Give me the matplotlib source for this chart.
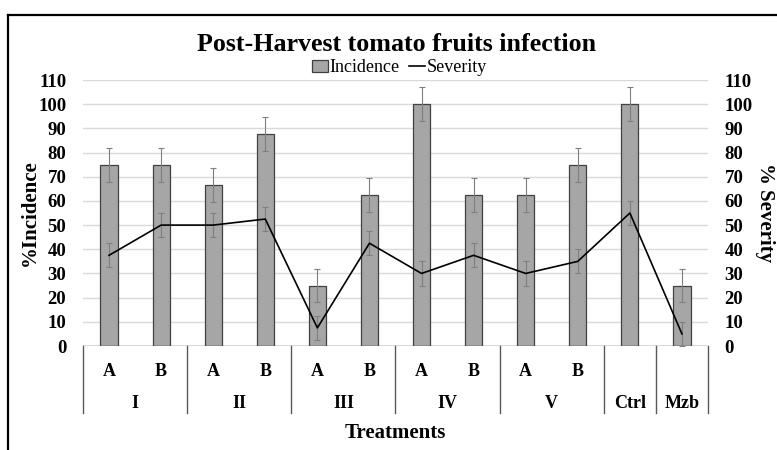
import matplotlib
matplotlib.use("Agg")
import matplotlib.pyplot as plt
from matplotlib.lines import Line2D
from matplotlib.patches import Patch
import numpy as np

plt.rcParams['font.family'] = ['Liberation Serif', 'DejaVu Serif']

# data
sub_labels = ['A', 'B', 'A', 'B', 'A', 'B', 'A', 'B', 'A', 'B', '', '']
groups = ['I', 'II', 'III', 'IV', 'V', 'Ctrl', 'Mzb']
group_sizes = [2, 2, 2, 2, 2, 1, 1]
incidence = [75, 75, 66.7, 87.5, 25, 62.5, 100, 62.5, 62.5, 75, 100, 25]
incidence_err = [7, 7, 7, 7, 7, 7, 7, 7, 7, 7, 7, 7]
severity = [37.5, 50, 50, 52.5, 7.5, 42.5, 30, 37.5, 30, 35, 55, 5]
severity_err = [5, 5, 5, 5, 5, 5, 5, 5, 5, 5, 5, 5]

fig = plt.figure(figsize=(7.77, 4.5), dpi=100)
ax = fig.add_axes([0.1068, 0.2311, 0.8044, 0.5911])
ax2 = ax.twinx()

x = np.arange(len(incidence))
ax.bar(x, incidence, width=0.33, color='#a6a6a6', edgecolor='#404040',
       linewidth=0.9, zorder=2)
ax.errorbar(x, incidence, yerr=incidence_err, fmt='none', ecolor='#7f7f7f',
            elinewidth=0.8, capsize=2, capthick=0.8, zorder=3)

ax2.plot(x, severity, color='black', linewidth=1.2, zorder=4)
ax2.errorbar(x, severity, yerr=severity_err, fmt='none', ecolor='#7f7f7f',
             elinewidth=0.8, capsize=2, capthick=0.8, zorder=3)

for a in (ax, ax2):
    a.set_ylim(0, 110)
    a.set_yticks(range(0, 111, 10))
    a.set_xlim(-0.5, len(incidence) - 0.5)
    for s in a.spines.values():
        s.set_visible(False)
    a.tick_params(axis='y', length=0, labelsize=13.5, pad=12)
    for lbl in a.get_yticklabels():
        lbl.set_fontweight('bold')

ax.yaxis.grid(True, color='#d9d9d9', linewidth=1.0, zorder=0)
ax.set_axisbelow(True)
ax.set_xticks([])
ax2.set_xticks([])
ax.axhline(0, color='#595959', linewidth=1.0, zorder=5)

# multi-level category table below the axis
xt = ax.get_xaxis_transform()
bounds = [-0.5]
for n in group_sizes:
    bounds.append(bounds[-1] + n)
for b in bounds:
    ax.plot([b, b], [0, -0.252], transform=xt, color='#595959',
            linewidth=1.0, clip_on=False)
for i, s in enumerate(sub_labels):
    if s:
        ax.text(i, -0.095, s, transform=xt, ha='center', va='center',
                fontsize=13, fontweight='bold')
for g, lo, hi in zip(groups, bounds[:-1], bounds[1:]):
    ax.text((lo + hi) / 2, -0.215, g, transform=xt, ha='center', va='center',
            fontsize=13, fontweight='bold')

ax.text(0.5, -0.327, 'Treatments', transform=ax.transAxes, ha='center',
        va='center', fontsize=15, fontweight='bold')
fig.text(0.0386, 0.527, '%Incidence', rotation=90, ha='center', va='center',
         fontsize=15, fontweight='bold')
fig.text(0.9846, 0.527, '% Severity', rotation=-90, ha='center', va='center',
         fontsize=15, fontweight='bold')

fig.text(0.511, 0.902, 'Post-Harvest tomato fruits infection', ha='center',
         va='center', fontsize=18.7, fontweight='bold')

handles = [Patch(facecolor='#a6a6a6', edgecolor='#404040', linewidth=0.9),
           Line2D([0], [0], color='black', linewidth=1.2)]
fig.legend(handles, ['Incidence', 'Severity'], loc='center',
           bbox_to_anchor=(0.514, 0.849), ncol=2, frameon=False, fontsize=13,
           handlelength=0.9, handletextpad=0.1, columnspacing=0.5,
           borderpad=0)

# outer frame (top and left edges visible in the reference)
fig.add_artist(Line2D([8 / 777, 1], [1 - 15 / 450, 1 - 15 / 450],
                      color='black', linewidth=1.6, transform=fig.transFigure))
fig.add_artist(Line2D([8 / 777, 8 / 777], [0, 1 - 15 / 450],
                      color='black', linewidth=1.6, transform=fig.transFigure))

fig.savefig('out.png', dpi=100)
